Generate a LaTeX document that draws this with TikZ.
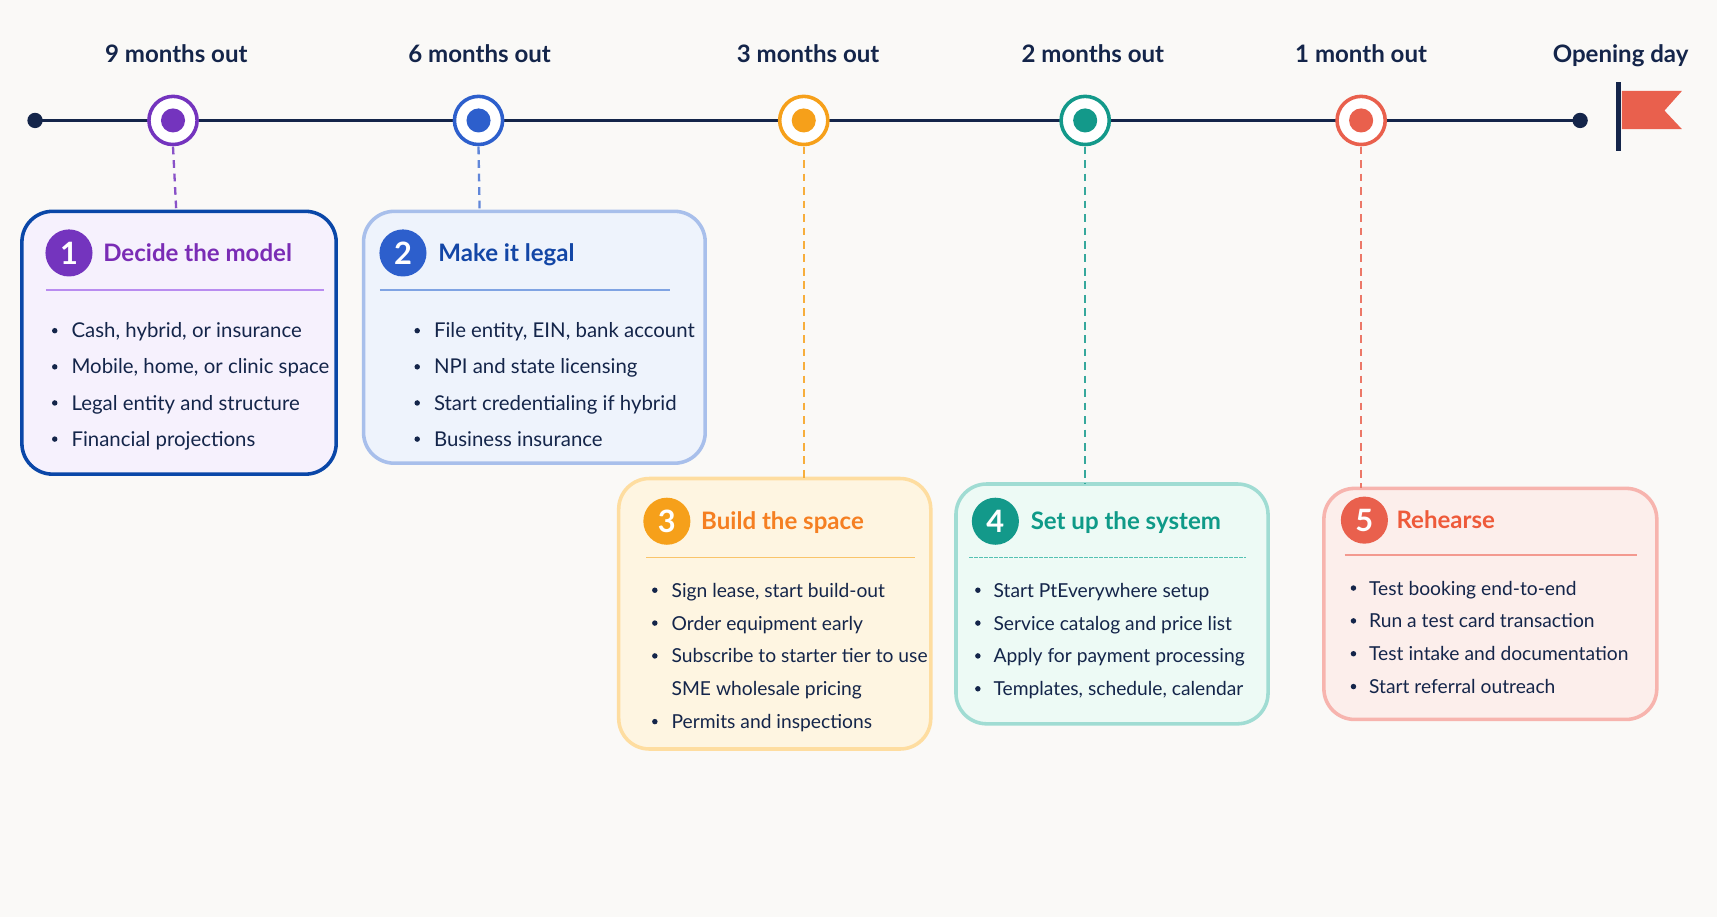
\documentclass[tikz,border=0pt]{standalone}
\usepackage{fontspec}
\setmainfont{Lato}
\usepackage{tikz}
\usetikzlibrary{positioning, calc}
\definecolor{Navy}{HTML}{14254A}
\definecolor{Paper}{HTML}{FAF9F7}
\definecolor{Purple}{HTML}{7434BE}
\definecolor{PurpleTitle}{HTML}{7A2CB5}
\definecolor{PurpleLine}{HTML}{B98CF0}
\definecolor{Blue}{HTML}{2D5FCC}
\definecolor{BlueTitle}{HTML}{1346A6}
\definecolor{BlueLine}{HTML}{7FA3E3}
\definecolor{Orange}{HTML}{F6A01A}
\definecolor{OrangeTitle}{HTML}{F57F22}
\definecolor{OrangeLine}{HTML}{F9C46A}
\definecolor{Teal}{HTML}{13998A}
\definecolor{TealTitle}{HTML}{0F9A88}
\definecolor{TealLine}{HTML}{55C2B3}
\definecolor{Coral}{HTML}{E9604D}
\definecolor{CoralTitle}{HTML}{EE5A3A}
\definecolor{CoralLine}{HTML}{F3998F}
\definecolor{EdgeA}{HTML}{0A47A8}
\definecolor{FillA}{HTML}{F6F1FD}
\definecolor{EdgeB}{HTML}{A8BFEB}
\definecolor{FillB}{HTML}{EEF3FC}
\definecolor{EdgeC}{HTML}{FEDDA0}
\definecolor{FillC}{HTML}{FEF5E1}
\definecolor{EdgeD}{HTML}{A0DCD3}
\definecolor{FillD}{HTML}{EDFAF5}
\definecolor{EdgeE}{HTML}{F7B4AE}
\definecolor{FillE}{HTML}{FCEEEB}

\begin{document}
\begin{tikzpicture}[x=0.02cm, y=-0.02cm,
    when/.style={anchor=base, font=\fontsize{12.5}{14}\selectfont\bfseries, text=Navy},
    mile/.style={circle, draw=#1, line width=0.065cm, fill=white, minimum size=0.88cm, inner sep=0pt},
    drop/.style={#1, line width=1.2pt, dash pattern=on 4pt off 3pt},
    card/.style={rounded corners=0.56cm, line width=0.065cm},
    num/.style={circle, fill=#1, minimum size=0.86cm, inner sep=0pt, text=white, font=\fontsize{16}{18}\selectfont\bfseries},
    head/.style={anchor=mid west, yshift=-0.07cm, text=#1, font=\fontsize{12.5}{14}\selectfont\bfseries, inner sep=0pt},
    item/.style={anchor=mid west, yshift=-0.04cm, text=Navy, font=\fontsize{10}{12}\selectfont, inner sep=0pt},
    bigitem/.style={item, font=\fontsize{10.6}{12}\selectfont}]
    \fill[Paper] (0,0) rectangle (1568,837);
    \useasboundingbox (0,0) rectangle (1568,837);

    % timeline
    \coordinate (start) at (32,110);
    \coordinate (end) at (1443,110);
    \draw[Navy, line width=0.07cm] (start) -- (end);
    \fill[Navy] (start) circle (0.14cm);
    \fill[Navy] (end) circle (0.14cm);
    \draw[Navy, line width=0.08cm] (1478,75) -- (1478,138);
    \fill[Coral] (1481,83) -- (1536,83) -- (1520,101) -- (1536,118) -- (1481,118) -- cycle;

    \node[mile=Purple] (m1) at (158,110) {};
    \node[mile=Blue]   (m2) at (437,110) {};
    \node[mile=Orange] (m3) at (734,110) {};
    \node[mile=Teal]   (m4) at (991,110) {};
    \node[mile=Coral]  (m5) at (1243,110) {};
    \fill[Purple] (m1) circle (0.22cm);
    \fill[Blue]   (m2) circle (0.22cm);
    \fill[Orange] (m3) circle (0.22cm);
    \fill[Teal]   (m4) circle (0.22cm);
    \fill[Coral]  (m5) circle (0.22cm);

    \node[when] (w1) at (161,57) {9 months out};
    \node[when] (w2) at (438,57) {6 months out};
    \node[when] (w3) at (738,57) {3 months out};
    \node[when] (w4) at (998,57) {2 months out};
    \node[when] (w5) at (1243,57) {1 month out};
    \node[when] (w6) at (1480,57) {Opening day};

    % cards
    \draw[card, draw=EdgeA, fill=FillA] (20,193) rectangle (307,433);
    \draw[card, draw=EdgeB, fill=FillB] (332,193) rectangle (644,423);
    \draw[card, draw=EdgeC, fill=FillC] (565,437) rectangle (850,684);
    \draw[card, draw=EdgeD, fill=FillD] (873,442) rectangle (1158,661);
    \draw[card, draw=EdgeE, fill=FillE] (1209,446) rectangle (1513,657);
    \coordinate (c1) at (161,193);
    \coordinate (c2) at (438,193);
    \coordinate (c3) at (734,437);
    \coordinate (c4) at (991,442);
    \coordinate (c5) at (1243,446);

    % drop lines
    \draw[drop=Purple!85] (m1) ++(0,24) -- (c1);
    \draw[drop=Blue!75]   (m2) ++(0,24) -- (c2);
    \draw[drop=Orange!85] (m3) ++(0,24) -- (c3);
    \draw[drop=Teal!85]   (m4) ++(0,24) -- (c4);
    \draw[drop=Coral!85]  (m5) ++(0,24) -- (c5);

    % card 1
    \node[num=Purple] (n1) at (63,231) {1};
    \node[head=PurpleTitle] (t1) at (94,231) {Decide the model};
    \draw[PurpleLine, line width=0.8pt] (42,265) -- (296,265);
    \foreach \y/\t in {302/{Cash, hybrid, or insurance}, 335/{Mobile, home, or clinic space},
                       368/{Legal entity and structure}, 401/{Financial projections}} {
        \fill[Navy] (50,\y) circle (0.05cm);
        \node[bigitem] at (65,\y) {\t};
    }

    % card 2
    \node[num=Blue] (n2) at (368,231) {2};
    \node[head=BlueTitle] (t2) at (400,231) {Make it legal};
    \draw[BlueLine, line width=0.8pt] (347,265) -- (612,265);
    \foreach \y/\t in {302/{File entity, EIN, bank account}, 335/{NPI and state licensing},
                       368/{Start credentialing if hybrid}, 401/{Business insurance}} {
        \fill[Navy] (381,\y) circle (0.05cm);
        \node[bigitem] at (396,\y) {\t};
    }

    % card 3
    \node[num=Orange] (n3) at (609,476) {3};
    \node[head=OrangeTitle] (t3) at (640,476) {Build the space};
    \draw[OrangeLine, line width=0.8pt] (590,509) -- (836,509);
    \foreach \y/\t in {539/{Sign lease, start build-out}, 569/{Order equipment early},
                       599/{Subscribe to starter tier to use}, 659/{Permits and inspections}} {
        \fill[Navy] (598,\y) circle (0.05cm);
        \node[item] at (613,\y) {\t};
    }
    \node[item] at (613,629) {SME wholesale pricing};

    % card 4
    \node[num=Teal] (n4) at (909,476) {4};
    \node[head=TealTitle] (t4) at (941,476) {Set up the system};
    \draw[TealLine, line width=0.8pt, dash pattern=on 2pt off 0.6pt] (885,509) -- (1138,509);
    \foreach \y/\t in {539/{Start PtEverywhere setup}, 569/{Service catalog and price list},
                       599/{Apply for payment processing}, 629/{Templates, schedule, calendar}} {
        \fill[Navy] (893,\y) circle (0.05cm);
        \node[item] at (907,\y) {\t};
    }

    % card 5
    \node[num=Coral] (n5) at (1246,475) {5};
    \node[head=CoralTitle] (t5) at (1275,475) {Rehearse};
    \draw[CoralLine, line width=0.8pt] (1228,507) -- (1495,507);
    \foreach \y/\t in {537/{Test booking end-to-end}, 567/{Run a test card transaction},
                       597/{Test intake and documentation}, 627/{Start referral outreach}} {
        \fill[Navy] (1236,\y) circle (0.05cm);
        \node[item] at (1250,\y) {\t};
    }
\end{tikzpicture}
\end{document}
